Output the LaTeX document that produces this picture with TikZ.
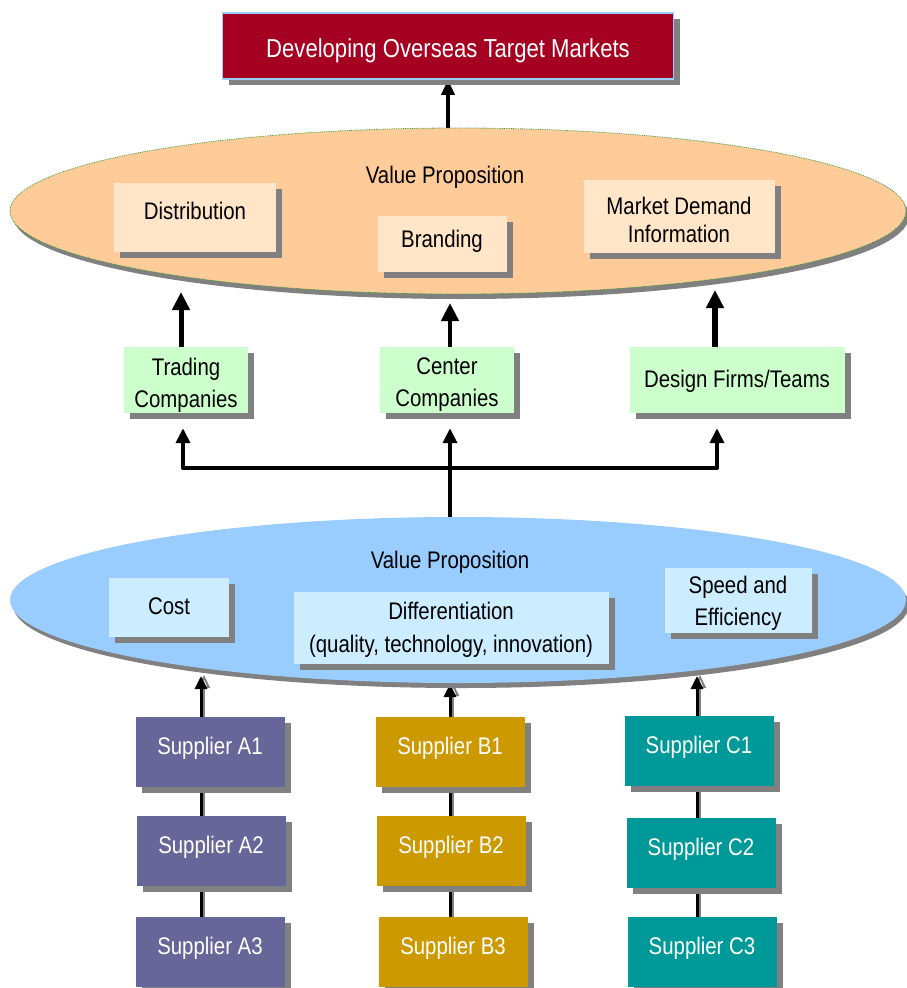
\documentclass[tikz,border=0pt]{standalone}
\usepackage{fontspec}
\setmainfont[FakeStretch=0.85]{Liberation Sans}
\usetikzlibrary{shapes.geometric,shadows,arrows.meta}
\definecolor{titlered}{HTML}{A50021}
\definecolor{titleedge}{HTML}{99CCFF}
\definecolor{orangefill}{HTML}{FFCC99}
\definecolor{orangebox}{HTML}{FFE6C8}
\definecolor{greenbox}{HTML}{CCFFCC}
\definecolor{bluefill}{HTML}{99CCFF}
\definecolor{bluebox}{HTML}{CCECFF}
\definecolor{supA}{HTML}{666699}
\definecolor{supB}{HTML}{CC9900}
\definecolor{supC}{HTML}{009999}
\definecolor{shadowgray}{HTML}{808080}
\definecolor{dotgreen}{HTML}{339933}
\pgfdeclarelayer{bg}
\pgfsetlayers{bg,main}
\newcommand{\mvtext}[2]{\raisebox{#1}[\height][\depth]{#2}}
\begin{document}
\begin{tikzpicture}[x=1pt,y=-1pt,
  shad/.style={drop shadow={shadow xshift=6pt,shadow yshift=-6pt,fill=shadowgray,opacity=1}},
  eshad/.style={drop shadow={shadow xshift=3pt,shadow yshift=-5pt,fill=shadowgray,opacity=1}},
  box/.style={shad,draw=none,inner sep=0pt,align=center,font=\fontsize{24}{32}\selectfont},
  supbox/.style={box,text=white,minimum width=149,minimum height=70},
  oval/.style={ellipse,eshad,inner sep=0pt,minimum width=896,minimum height=166},
  bigarrow/.style={line width=5pt,-{Triangle[length=18pt,width=17pt]}},
  busline/.style={line width=4pt,line join=round},
  busarrow/.style={line width=4pt,-{Triangle[length=15pt,width=14pt]}},
  suparrow/.style={line width=3pt,-{Triangle[length=13pt,width=12pt]}},
  supshade/.style={line width=2pt,draw=shadowgray,-{Triangle[length=13pt,width=12pt,open]}},
  supline/.style={line width=3pt},
  supshadeline/.style={line width=2.5pt,draw=shadowgray}]
\useasboundingbox (0,0) rectangle (906,988);

% title
\node[box,fill=titlered,draw=titleedge,line width=1.5pt,text=white,
  minimum width=451,minimum height=66,font=\fontsize{26}{30}\selectfont]
  (title) at (448,46) {\mvtext{-5pt}{Developing Overseas Target Markets}};

% orange ellipse
\node[oval,fill=orangefill,draw=dotgreen,densely dotted,line width=0.8pt] (orange) at (458,211) {};
\node[font=\fontsize{24}{28}\selectfont] (vp1) at (445,177) {Value Proposition};
\node[box,fill=orangebox,minimum width=162,minimum height=69] (dist) at (195,217) {\mvtext{6pt}{Distribution}};
\node[box,fill=orangebox,minimum width=129,minimum height=56] (brand) at (442,244) {\mvtext{3pt}{Branding}};
\node[box,fill=orangebox,minimum width=191,minimum height=73,font=\fontsize{24}{28}\selectfont] (mdi) at (679,216) {\mvtext{-4pt}{Market Demand}\\\mvtext{-4pt}{Information}};

% green boxes
\node[box,fill=greenbox,minimum width=124,minimum height=66] (trade) at (186,380) {\mvtext{-5pt}{Trading}\\\mvtext{-5pt}{Companies}};
\node[box,fill=greenbox,minimum width=134,minimum height=66] (center) at (447,380) {\mvtext{-5pt}{Center}\\\mvtext{-5pt}{Companies}};
\node[box,fill=greenbox,minimum width=215,minimum height=66] (design) at (737,380) {\mvtext{-1pt}{Design Firms/Teams}};

% blue ellipse
\node[oval,fill=bluefill,draw=none] (blue) at (458,600) {};
\node[font=\fontsize{24}{28}\selectfont] (vp2) at (450,562) {Value Proposition};
\node[box,fill=bluebox,minimum width=120,minimum height=59] (cost) at (169,607) {\mvtext{1pt}{Cost}};
\node[box,fill=bluebox,minimum width=315,minimum height=72,font=\fontsize{24}{33}\selectfont] (diff) at (451,628) {\mvtext{-2pt}{Differentiation}\\\mvtext{-2pt}{(quality, technology, innovation)}};
\node[box,fill=bluebox,minimum width=147,minimum height=65] (speed) at (738,600) {\mvtext{-3pt}{Speed and}\\\mvtext{-3pt}{Efficiency}};

% suppliers
\node[supbox,fill=supA] (a1) at (210,752) {\mvtext{4pt}{Supplier A1}};
\node[supbox,fill=supA] (a2) at (211,851) {\mvtext{4pt}{Supplier A2}};
\node[supbox,fill=supA] (a3) at (210,952) {\mvtext{4pt}{Supplier A3}};
\node[supbox,fill=supB] (b1) at (450,752) {\mvtext{4pt}{Supplier B1}};
\node[supbox,fill=supB] (b2) at (451,851) {\mvtext{4pt}{Supplier B2}};
\node[supbox,fill=supB] (b3) at (453,952) {\mvtext{4pt}{Supplier B3}};
\node[supbox,fill=supC] (c1) at (699,751) {\mvtext{4pt}{Supplier C1}};
\node[supbox,fill=supC] (c2) at (701,853) {\mvtext{4pt}{Supplier C2}};
\node[supbox,fill=supC] (c3) at (702,952) {\mvtext{4pt}{Supplier C3}};

% coordinates for free ends
\coordinate (o1) at (181,292);
\coordinate (o2) at (450,303);
\coordinate (o3) at (715,290);
\coordinate (j) at (450,468);
\coordinate (ax) at (201,0);
\coordinate (bx) at (450,0);
\coordinate (cx) at (697,0);
\coordinate (ta) at (201,676);
\coordinate (tb) at (450,684);
\coordinate (tc) at (697,676);

\begin{pgfonlayer}{bg}
  % top arrow
  \draw[line width=3.5pt,-{Triangle[length=15pt,width=13pt]}] (title.south |- orange.north) -- (title.south);
  % green to orange
  \draw[bigarrow] (trade.north -| o1) -- (o1);
  \draw[bigarrow,line width=4.5pt] (center.north -| o2) -- (o2);
  \draw[bigarrow,line width=6pt] (design.north -| o3) -- (o3);
  % bus
  \draw[busarrow,shorten >=15pt] (blue.north -| j) -- (center.south -| j);
  \draw[busline,{Triangle[length=15pt,width=14pt]}-{Triangle[length=15pt,width=14pt]},shorten <=15pt,shorten >=15pt]
    (trade.south -| 183,0) -- (j -| 183,0) -- (j -| 717,0) -- (design.south -| 717,0);
  % supplier chains (shadow line then black line)
  \foreach \col/\t/\dx in {a/ta/ax,b/tb/bx,c/tc/cx}{
    \draw[supshadeline] ([xshift=3pt]\col3.north -| \dx) -- ([xshift=3pt]\col1.north -| \dx);
    \draw[supshade] ([xshift=3pt]\col1.north -| \dx) -- ([xshift=3pt,yshift=1pt]\t);
    \draw[supline] (\col3.north -| \dx) -- (\col1.north -| \dx);
    \draw[suparrow] (\col1.north -| \dx) -- (\t);
  }
\end{pgfonlayer}
\end{tikzpicture}
\end{document}
